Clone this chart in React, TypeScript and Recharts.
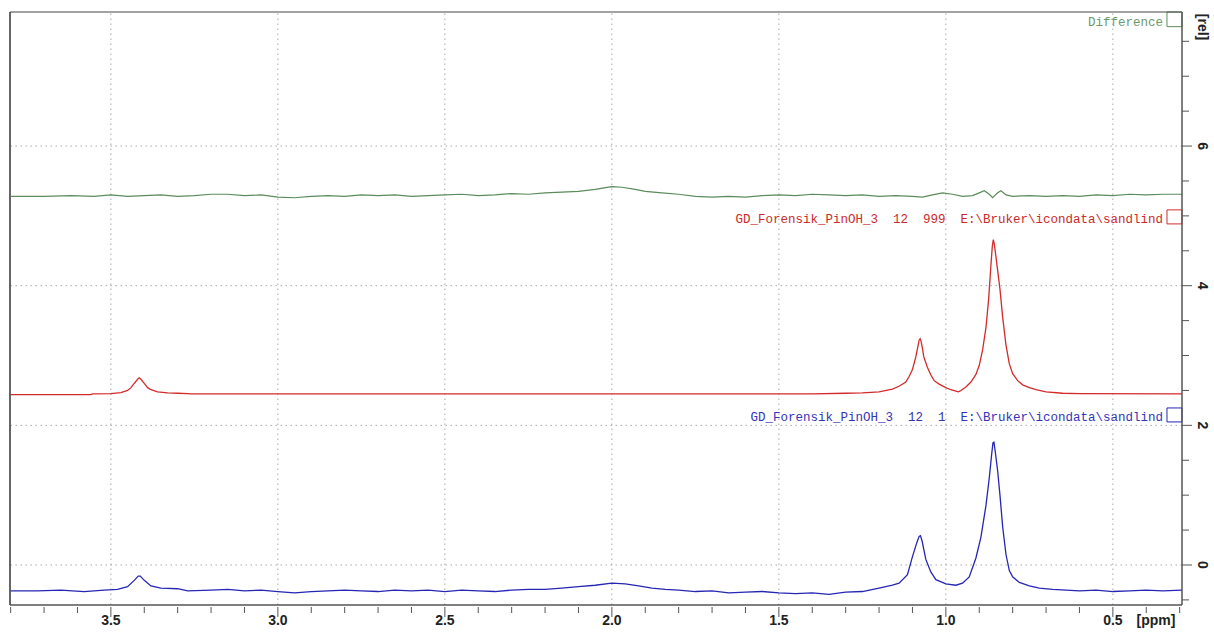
import React from 'react';
import { LineChart, Line, XAxis, YAxis, ReferenceLine, ReferenceArea } from 'recharts';

const GREEN = '#5b8c5b';
const RED = '#d42a2a';
const BLUE = '#2626b4';
const AXIS = '#555555';
const GRID = '#a8a8a8';

const X_LEFT = 3.802;
const X_RIGHT = 0.293;
const Y_TOP = 7.92;
const Y_BOTTOM = -0.573;

const MAJOR_X = [3.5, 3.0, 2.5, 2.0, 1.5, 1.0, 0.5];
const X_TICKS = [3.8, 3.7, 3.6, 3.5, 3.4, 3.3, 3.2, 3.1, 3.0, 2.9, 2.8, 2.7, 2.6, 2.5, 2.4, 2.3, 2.2, 2.1, 2.0,
    1.9, 1.8, 1.7, 1.6, 1.5, 1.4, 1.3, 1.2, 1.1, 1.0, 0.9, 0.8, 0.7, 0.6, 0.5, 0.4, 0.3];
const MAJOR_Y = [0, 2, 4, 6];
const Y_TICKS = [-0.5, 0, 0.5, 1, 1.5, 2, 2.5, 3, 3.5, 4, 4.5, 5, 5.5, 6, 6.5, 7, 7.5];

// [ppm, rel]
const DIFFERENCE: [number, number][] = [
    [3.80, 5.28], [3.70, 5.28], [3.62, 5.29], [3.55, 5.28], [3.50, 5.30], [3.45, 5.28], [3.40, 5.29],
    [3.35, 5.30], [3.30, 5.28], [3.25, 5.29], [3.20, 5.31], [3.15, 5.31], [3.10, 5.29], [3.05, 5.30],
    [3.00, 5.27], [2.95, 5.26], [2.90, 5.28], [2.85, 5.29], [2.80, 5.28], [2.75, 5.30], [2.70, 5.29],
    [2.65, 5.30], [2.60, 5.28], [2.55, 5.29], [2.50, 5.30], [2.45, 5.31], [2.40, 5.29], [2.35, 5.30],
    [2.30, 5.32], [2.25, 5.31], [2.20, 5.33], [2.15, 5.34], [2.10, 5.35], [2.05, 5.38], [2.00, 5.42],
    [1.97, 5.41], [1.93, 5.38], [1.90, 5.35], [1.85, 5.33], [1.80, 5.31], [1.75, 5.28], [1.70, 5.27],
    [1.65, 5.28], [1.60, 5.27], [1.55, 5.29], [1.50, 5.30], [1.45, 5.29], [1.40, 5.31], [1.35, 5.30],
    [1.30, 5.29], [1.25, 5.30], [1.20, 5.28], [1.15, 5.29], [1.10, 5.28], [1.07, 5.27], [1.04, 5.30],
    [1.01, 5.33], [0.98, 5.31], [0.95, 5.28], [0.92, 5.29], [0.90, 5.33], [0.885, 5.36], [0.87, 5.31],
    [0.86, 5.26], [0.845, 5.33], [0.835, 5.36], [0.82, 5.30], [0.80, 5.28], [0.75, 5.29], [0.70, 5.28],
    [0.65, 5.29], [0.60, 5.28], [0.55, 5.30], [0.50, 5.29], [0.45, 5.31], [0.40, 5.30], [0.35, 5.31],
    [0.293, 5.31],
];

const SPEC_999: [number, number][] = [
    [3.80, 2.44], [3.56, 2.44], [3.555, 2.45], [3.50, 2.455], [3.47, 2.47], [3.45, 2.50], [3.44, 2.54],
    [3.43, 2.60], [3.42, 2.66], [3.415, 2.68], [3.41, 2.66], [3.40, 2.60], [3.39, 2.54], [3.38, 2.51],
    [3.36, 2.48], [3.33, 2.465], [3.30, 2.46], [3.27, 2.455], [3.26, 2.45], [2.50, 2.45], [1.40, 2.45],
    [1.30, 2.46], [1.25, 2.465], [1.20, 2.48], [1.16, 2.52], [1.14, 2.56], [1.12, 2.62], [1.11, 2.70],
    [1.10, 2.80], [1.09, 2.98], [1.083, 3.15], [1.080, 3.22], [1.077, 3.24], [1.074, 3.20], [1.070, 3.10],
    [1.066, 2.98], [1.056, 2.84], [1.045, 2.72], [1.035, 2.64], [1.02, 2.59], [1.00, 2.54], [0.985, 2.51],
    [0.97, 2.49], [0.962, 2.48], [0.955, 2.50], [0.94, 2.55], [0.925, 2.62], [0.91, 2.73], [0.90, 2.86],
    [0.89, 3.08], [0.88, 3.40], [0.872, 3.80], [0.865, 4.30], [0.861, 4.56], [0.858, 4.66], [0.855, 4.60],
    [0.851, 4.45], [0.845, 4.22], [0.838, 3.95], [0.83, 3.55], [0.82, 3.15], [0.81, 2.88], [0.80, 2.74],
    [0.785, 2.64], [0.77, 2.58], [0.75, 2.54], [0.73, 2.51], [0.70, 2.48], [0.65, 2.46], [0.60, 2.455],
    [0.293, 2.45],
];

const SPEC_1: [number, number][] = [
    [3.80, -0.37], [3.72, -0.37], [3.65, -0.36], [3.58, -0.38], [3.52, -0.36], [3.48, -0.35], [3.45, -0.31],
    [3.43, -0.22], [3.418, -0.16], [3.412, -0.16], [3.40, -0.22], [3.38, -0.30], [3.35, -0.33], [3.30, -0.34],
    [3.27, -0.37], [3.20, -0.36], [3.15, -0.35], [3.10, -0.37], [3.05, -0.36], [3.00, -0.38], [2.95, -0.40],
    [2.90, -0.38], [2.85, -0.37], [2.80, -0.36], [2.75, -0.37], [2.70, -0.38], [2.65, -0.36], [2.60, -0.37],
    [2.55, -0.36], [2.50, -0.38], [2.45, -0.36], [2.40, -0.37], [2.35, -0.38], [2.30, -0.36], [2.25, -0.35],
    [2.20, -0.35], [2.15, -0.33], [2.10, -0.31], [2.05, -0.29], [2.00, -0.26], [1.96, -0.27], [1.92, -0.30],
    [1.88, -0.33], [1.84, -0.35], [1.80, -0.36], [1.75, -0.38], [1.70, -0.37], [1.65, -0.40], [1.60, -0.39],
    [1.55, -0.38], [1.50, -0.40], [1.45, -0.41], [1.40, -0.40], [1.35, -0.42], [1.30, -0.39], [1.25, -0.38],
    [1.20, -0.33], [1.16, -0.29], [1.14, -0.26], [1.115, -0.14], [1.10, 0.12], [1.087, 0.32], [1.080, 0.41],
    [1.076, 0.42], [1.071, 0.34], [1.06, 0.08], [1.045, -0.10], [1.03, -0.21], [1.00, -0.27], [0.97, -0.29],
    [0.95, -0.26], [0.93, -0.17], [0.91, 0.10], [0.895, 0.40], [0.88, 0.85], [0.87, 1.25], [0.863, 1.58],
    [0.859, 1.75], [0.856, 1.76], [0.852, 1.62], [0.845, 1.35], [0.838, 1.00], [0.83, 0.55], [0.82, 0.15],
    [0.81, -0.08], [0.80, -0.17], [0.78, -0.25], [0.75, -0.30], [0.72, -0.33], [0.68, -0.35], [0.60, -0.37],
    [0.55, -0.36], [0.50, -0.38], [0.45, -0.37], [0.40, -0.36], [0.35, -0.37], [0.293, -0.36],
];

const LABEL_DIFF = 'Difference';
const LABEL_999 = 'GD_Forensik_PinOH_3  12  999  E:\\Bruker\\icondata\\sandlind';
const LABEL_1 = 'GD_Forensik_PinOH_3  12  1  E:\\Bruker\\icondata\\sandlind';

const toRows = (pts: [number, number][]) => pts.map(([ppm, v]) => ({ ppm, v }));

const tickFont = { fontFamily: '"Liberation Sans", Arial, sans-serif', fontWeight: 700, fontSize: 14 };

function XTick({ x, y, payload }: any) {
    const major = MAJOR_X.some((m) => Math.abs(m - payload.value) < 1e-6);
    return (
        <g>
            <line x1={x} x2={x} y1={y + 2} y2={y + (major ? 12 : 8)} stroke={AXIS} strokeWidth={1} />
            {major && (
                <text x={x} y={y + 20} textAnchor="middle" fill="#222" style={tickFont}>
                    {payload.value.toFixed(1)}
                </text>
            )}
        </g>
    );
}

function YTick({ x, y, payload }: any) {
    const major = MAJOR_Y.includes(payload.value);
    return (
        <g>
            <line x1={x} x2={x + (major ? 10 : 7)} y1={y} y2={y} stroke={AXIS} strokeWidth={1} />
            {major && (
                <text x={0} y={0} textAnchor="middle" dominantBaseline="central" fill="#222" style={tickFont}
                    transform={`translate(${x + 21},${y}) rotate(90)`}>
                    {payload.value}
                </text>
            )}
        </g>
    );
}

function bracketLabel(text: string, color: string) {
    return ({ viewBox }: any) => (
        <text x={viewBox.x - 4} y={viewBox.y + viewBox.height - 1} textAnchor="end" fill={color}
            style={{ fontFamily: '"Liberation Mono", "Courier New", monospace', fontSize: 12.5, whiteSpace: 'pre' }}>
            {text}
        </text>
    );
}

export default function App() {
    return (
        <div style={{ position: 'absolute', left: 0, top: 0, width: 1214, height: 632, background: '#fff' }}>
            <LineChart width={1214} height={632} margin={{ top: 12, left: 10, right: 0, bottom: 0 }}>
                <XAxis type="number" dataKey="ppm" domain={[X_RIGHT, X_LEFT]} reversed allowDataOverflow
                    ticks={X_TICKS} interval={0} height={27} tickSize={0} tickMargin={0} tickLine={false}
                    axisLine={{ stroke: AXIS, strokeWidth: 1.5 }} tick={<XTick />} />
                <YAxis orientation="right" type="number" domain={[Y_BOTTOM, Y_TOP]} allowDataOverflow
                    ticks={Y_TICKS} interval={0} width={32} tickSize={0} tickMargin={0} tickLine={false}
                    axisLine={{ stroke: AXIS, strokeWidth: 1.5 }} tick={<YTick />} />

                {MAJOR_X.map((v) => (
                    <ReferenceLine key={`gx${v}`} x={v} stroke={GRID} strokeDasharray="1.5 3.5" />
                ))}
                {MAJOR_Y.map((v) => (
                    <ReferenceLine key={`gy${v}`} y={v} stroke={GRID} strokeDasharray="1.5 3.5" />
                ))}
                <ReferenceLine x={X_LEFT} stroke="#333" strokeWidth={1.5} />
                <ReferenceLine y={Y_TOP} stroke="#444" strokeWidth={1} />

                <ReferenceArea x1={X_RIGHT} x2={0.338} y1={7.71} y2={Y_TOP} fill="none" stroke={GREEN}
                    label={bracketLabel(LABEL_DIFF, '#6a9a6a')} />
                <ReferenceArea x1={X_RIGHT} x2={0.338} y1={4.885} y2={5.086} fill="none" stroke={RED}
                    label={bracketLabel(LABEL_999, '#cc2a2a')} />
                <ReferenceArea x1={X_RIGHT} x2={0.338} y1={2.049} y2={2.249} fill="none" stroke={BLUE}
                    label={bracketLabel(LABEL_1, '#3434b8')} />

                <Line data={toRows(DIFFERENCE)} dataKey="v" stroke={GREEN} strokeWidth={1.2} dot={false}
                    type="linear" isAnimationActive={false} />
                <Line data={toRows(SPEC_999)} dataKey="v" stroke={RED} strokeWidth={1.3} dot={false}
                    type="linear" isAnimationActive={false} />
                <Line data={toRows(SPEC_1)} dataKey="v" stroke={BLUE} strokeWidth={1.3} dot={false}
                    type="linear" isAnimationActive={false} />

                <text x={1156} y={625} textAnchor="middle" fill="#222" style={tickFont}>[ppm]</text>
                <text x={0} y={0} textAnchor="middle" dominantBaseline="central" fill="#222" style={tickFont}
                    transform="translate(1203,27) rotate(90)">[rel]</text>
            </LineChart>
        </div>
    );
}
